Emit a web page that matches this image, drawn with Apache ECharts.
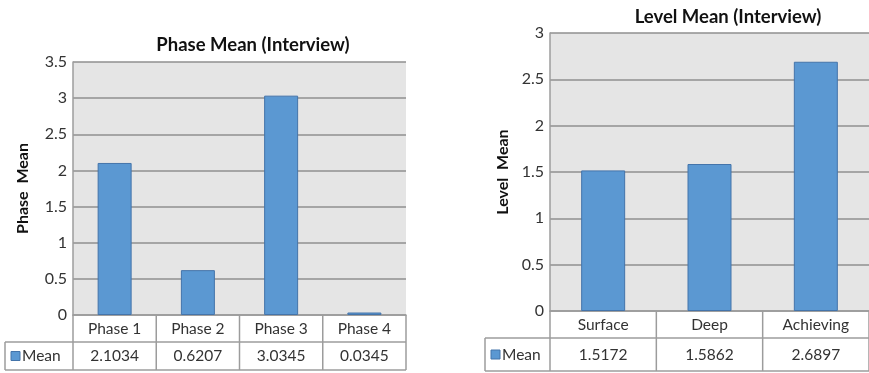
<!DOCTYPE html>
<html>
<head>
<meta charset="utf-8">
<script src="https://cdn.jsdelivr.net/npm/echarts@6/dist/echarts.min.js"></script>
<style>
  html, body { margin: 0; padding: 0; background: #ffffff; }
  #chart { width: 869px; height: 373px; }
</style>
</head>
<body>
<div id="chart"></div>
<script>
// Phase chart data
const phaseCategories = ['Phase 1', 'Phase 2', 'Phase 3', 'Phase 4'];
const phaseMeans = [2.1034, 0.6207, 3.0345, 0.0345];
const phaseTicks = { min: 0, max: 3.5, interval: 0.5 };

// Level chart data
const levelCategories = ['Surface', 'Deep', 'Achieving'];
const levelMeans = [1.5172, 1.5862, 2.6897];
const levelTicks = { min: 0, max: 3, interval: 0.5 };

const seriesName = 'Mean';

const FONT = 'Lato, "Open Sans", sans-serif';
const BAR_FILL = '#5b98d2';
const BAR_EDGE = '#4474aa';
const GRID_LINE = '#8f8f8f';
const TABLE_LINE = '#9c9c9c';
const TEXT = '#333333';
const TABLE_FONT = 15.5;

// Layout for the two panels
const panels = [
  {
    title: 'Phase Mean (Interview)', titleX: 248, titleY: 40,
    yName: 'Phase  Mean',
    cats: phaseCategories, vals: phaseMeans, ticks: phaseTicks,
    grid: { left: 73, top: 62, width: 333, height: 253 },
    barWidth: 34, row1: 27, row2: 28, headLeft: 5, nameGap: 42
  },
  {
    title: 'Level Mean (Interview)', titleX: 723, titleY: 12,
    yName: 'Level  Mean',
    cats: levelCategories, vals: levelMeans, ticks: levelTicks,
    grid: { left: 550, top: 33, width: 324, height: 278 },
    barWidth: 44, row1: 27, row2: 33, headLeft: 485, nameGap: 39
  }
];

const chart = echarts.init(document.getElementById('chart'), null, { renderer: 'canvas' });

const option = {
  animation: false,
  backgroundColor: '#ffffff',
  title: panels.map(p => ({
    text: p.title,
    left: p.titleX, top: p.titleY,
    textAlign: 'center', textVerticalAlign: 'middle',
    textStyle: { fontFamily: FONT, fontSize: 18.5, fontWeight: 'bold', color: '#111' }
  })),
  grid: panels.map(p => Object.assign({
    show: true, backgroundColor: '#e5e5e5', borderWidth: 0, containLabel: false
  }, p.grid)),
  xAxis: panels.map((p, i) => ({
    type: 'category', gridIndex: i, data: p.cats,
    axisLine: { show: true, lineStyle: { color: TABLE_LINE, width: 1.5 } },
    axisTick: { show: false }, axisLabel: { show: false },
    splitLine: { show: false }
  })),
  yAxis: panels.map((p, i) => ({
    type: 'value', gridIndex: i,
    min: p.ticks.min, max: p.ticks.max, interval: p.ticks.interval,
    name: p.yName, nameLocation: 'middle', nameRotate: 90, nameGap: p.nameGap,
    nameTextStyle: { fontFamily: FONT, fontSize: 16, fontWeight: 'bold', color: '#111' },
    axisLine: { show: true, lineStyle: { color: TABLE_LINE, width: 1.5 } },
    axisTick: { show: false },
    axisLabel: { fontFamily: FONT, fontSize: 16, color: TEXT, margin: 6 },
    splitLine: { show: true, lineStyle: { color: GRID_LINE, width: 1.5 } }
  })),
  series: panels.map((p, i) => ({
    type: 'bar', name: seriesName, xAxisIndex: i, yAxisIndex: i,
    data: p.vals, barWidth: p.barWidth,
    itemStyle: { color: BAR_FILL, borderColor: BAR_EDGE, borderWidth: 1 }
  }))
};

chart.setOption(option);

// Data table under each plot, placed from the axis pixel positions
function buildTable(p, i) {
  const els = [];
  const n = p.cats.length;
  const x0 = chart.convertToPixel({ xAxisIndex: i }, 0);
  const x1 = chart.convertToPixel({ xAxisIndex: i }, 1);
  const band = x1 - x0;
  const left = x0 - band / 2;
  const right = left + band * n;
  const yTop = chart.convertToPixel({ yAxisIndex: i }, 0);
  const yMid = yTop + p.row1;
  const yBot = yMid + p.row2;
  const line = (ax, ay, bx, by) => ({
    type: 'line', silent: true,
    shape: { x1: ax, y1: ay, x2: bx, y2: by },
    style: { stroke: TABLE_LINE, lineWidth: 1.5 }
  });
  els.push(line(p.headLeft, yMid, right, yMid));
  els.push(line(p.headLeft, yBot, right, yBot));
  els.push(line(p.headLeft, yMid, p.headLeft, yBot));
  for (let k = 0; k <= n; k++) {
    const x = left + band * k;
    els.push(line(x, yTop, x, yBot));
  }
  for (let k = 0; k < n; k++) {
    const cx = chart.convertToPixel({ xAxisIndex: i }, k);
    els.push({
      type: 'text', silent: true, x: cx, y: (yTop + yMid) / 2,
      style: { text: p.cats[k], fontFamily: FONT, fontSize: TABLE_FONT, fill: TEXT,
               align: 'center', verticalAlign: 'middle' }
    });
    els.push({
      type: 'text', silent: true, x: cx, y: (yMid + yBot) / 2,
      style: { text: p.vals[k].toFixed(4), fontFamily: FONT, fontSize: TABLE_FONT, fill: TEXT,
               align: 'center', verticalAlign: 'middle' }
    });
  }
  // legend key cell
  const ky = (yMid + yBot) / 2;
  els.push({
    type: 'rect', silent: true,
    shape: { x: p.headLeft + 6, y: ky - 4.5, width: 9, height: 9 },
    style: { fill: BAR_FILL, stroke: BAR_EDGE, lineWidth: 1 }
  });
  els.push({
    type: 'text', silent: true, x: p.headLeft + 17, y: ky,
    style: { text: seriesName, fontFamily: FONT, fontSize: TABLE_FONT, fill: TEXT,
             align: 'left', verticalAlign: 'middle' }
  });
  return els;
}

chart.setOption({
  graphic: [].concat(buildTable(panels[0], 0), buildTable(panels[1], 1))
});
</script>
</body>
</html>
